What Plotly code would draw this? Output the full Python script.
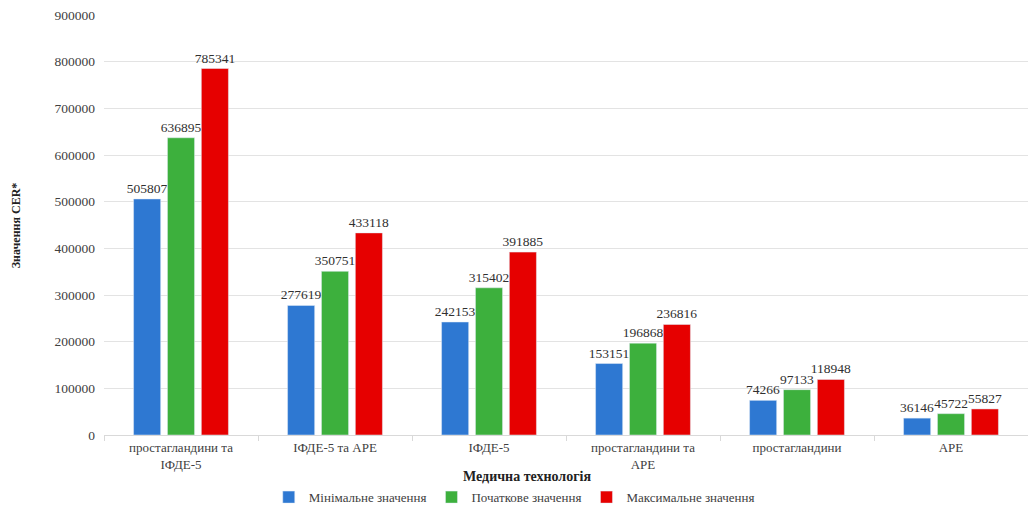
import plotly.graph_objects as go

categories = ["простагландини та<br>ІФДЕ-5", "ІФДЕ-5 та АРЕ", "ІФДЕ-5",
              "простагландини та<br>АРЕ", "простагландини", "АРЕ"]
min_vals = [505807, 277619, 242153, 153151, 74266, 36146]
init_vals = [636895, 350751, 315402, 196868, 97133, 45722]
max_vals = [785341, 433118, 391885, 236816, 118948, 55827]
series_names = ["Мінімальне значення", "Початкове значення", "Максимальне значення"]
colors = ["#2E78D2", "#3DB03D", "#E60000"]

font_family = "Liberation Serif, Times New Roman, serif"
txt_col = "#404040"

fig = go.Figure()
for name, vals, col in zip(series_names, [min_vals, init_vals, max_vals], colors):
    fig.add_trace(go.Bar(
        x=categories, y=vals, name=name, marker_color=col,
        text=[str(v) for v in vals], textposition="outside",
        constraintext="none",
        textfont=dict(family=font_family, size=13.5, color="#303030"),
        cliponaxis=False,
    ))

fig.update_layout(
    width=1028, height=508,
    margin=dict(l=104, r=0, t=15, b=73, autoexpand=False),
    paper_bgcolor="white", plot_bgcolor="white",
    barmode="group", bargap=0.34, bargroupgap=0.2,
    font=dict(family=font_family, color=txt_col),
    showlegend=True,
    legend=dict(orientation="h", x=0.444, xanchor="center", y=-0.148, yanchor="middle",
                font=dict(family=font_family, size=13, color=txt_col),
                itemwidth=30, tracegroupgap=0),
    xaxis=dict(
        automargin=False,
        tickfont=dict(family=font_family, size=13, color=txt_col),
        showline=True, linecolor="#D9D9D9", linewidth=1,
        ticks="outside", tickson="boundaries", ticklen=5, tickcolor="#D9D9D9",
    ),
    yaxis=dict(
        automargin=False,
        range=[0, 900000], dtick=100000, tickformat="d",
        tickfont=dict(family=font_family, size=13.5, color=txt_col),
        showgrid=True, gridcolor="#E3E3E3", gridwidth=1,
        zeroline=False, ticks="", ticklabelstandoff=8,
    ),
    annotations=[
        dict(text="<b>Медична технологія</b>", xref="paper", yref="paper",
             x=0.458, y=-0.098, xanchor="center", yanchor="middle", showarrow=False,
             font=dict(family=font_family, size=14, color="#222222")),
        dict(text="<b>Значення CER*</b>", xref="paper", yref="paper",
             x=-0.095, y=0.5, xanchor="center", yanchor="middle", showarrow=False,
             textangle=-90,
             font=dict(family=font_family, size=12, color="#222222")),
    ],
)

fig.write_html("out.html")
